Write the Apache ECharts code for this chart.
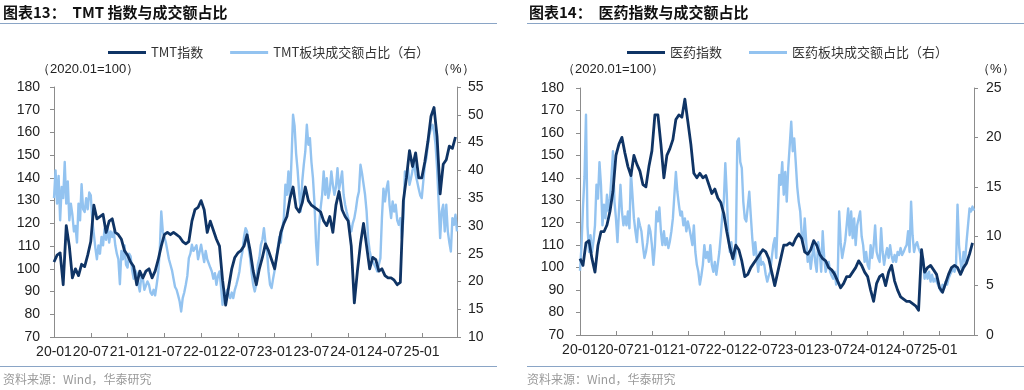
<!DOCTYPE html>
<html>
<head>
<meta charset="utf-8">
<script src="https://cdn.jsdelivr.net/npm/echarts@6/dist/echarts.min.js"></script>
<style>
html,body{margin:0;padding:0;background:#fff;}
#c{width:1024px;height:390px;}
</style>
</head>
<body>
<div id="c"></div>
<script>
// ---- categories: weekly-ish steps (4 per month) from 2020-01 to 2025-06 ----
const years = [2020, 2021, 2022, 2023, 2024, 2025];
const days = ['01', '08', '16', '23'];
const categories = [];
years.forEach(function (y) {
  for (let m = 1; m <= 12; m++) {
    if (y === 2025 && m > 6) break;
    const mm = (m < 10 ? '0' : '') + m;
    days.forEach(function (d) { categories.push(y + '-' + mm + '-' + d); });
  }
});
const tickLabels = ['20-01','20-07','21-01','21-07','22-01','22-07','23-01','23-07','24-01','24-07','25-01'];

// ---- TMT chart (index: half-monthly readings; share: weekly readings) ----
const tmtIndex = [
  103,106,107,93,119,110,96,100,97,102,101,106,
  112,128,122,123,124,116,121,122,116,115,113,108,
  106,103,101,93,99,96,99,100,96,99,104,110,
  115,116,115,116,115,114,112,111,112,121,126,127,
  130,126,116,121,117,113,110,95,84,92,100,105,
  107,108,110,115,108,99,93,100,105,111,108,104,
  100,108,116,120,123,131,136,127,125,129,136,130,
  128,127,126,125,121,119,123,116,128,134,126,123,
  121,110,85,99,111,120,110,100,105,104,99,100,
  97,96,96,95,93,94,130,140,152,145,151,140,
  140,147,156,167,171,158,133,146,148,154,153,158
];
const tmtShare = [
  35,40,34,39,31,37,35,41.5,34,38,31,34,32,29,30,27,34,31,37.5,33,32.5,35,33,36,
  35.5,31,28.5,26,24,26.5,25,28,26.5,29.5,27.5,30,27,29,28,29,26.5,25,24,19.5,25.5,24,26.5,23,
  22.5,25,24.5,22,20.5,22,21.5,19.5,18.2,21,20.5,18.5,18.2,20,19.4,18,17.6,18.5,17.5,19.4,21.5,25.4,32.6,29,
  28,27,25.5,24,23,22,20.5,19,18.5,17.5,16.4,14.6,17,18,19.4,21,24.2,25,26.6,25.5,25.4,26.5,24,24.2,
  26.6,25,23.5,25.5,24,24.2,22.5,21.8,20.5,21.5,19.4,21,21.8,19,15.8,18,17,18.5,18.2,17,18,17,18.5,19.4,
  20.5,21.8,24,25.4,28,29.6,29,26,24.2,21.5,19.4,18.2,19.5,23,24.2,26.6,27.5,29.6,27,25.4,21.8,19.4,18.8,20.5,
  22,24,26,28,27,29.6,31.4,37.4,35.6,39.8,35,42,50,48,43,40,36,32.6,38,41,43.4,48.2,44.6,45.8,
  41.5,38.6,34,27,23,30.2,33.2,35.6,39.8,35.6,38.6,35,36.5,39.8,37.4,35.6,37,40.4,36.5,38,39.8,35.6,33.8,32.5,
  31.4,30,29,30.5,31.4,33,35,36.2,41,39.5,39.2,35.6,32.6,27.8,25.5,24.2,24.5,23,22.5,21.8,23,24.2,31.4,36.7,
  34.4,36.7,38,33.8,31.4,34.4,32.6,33.8,31,30.2,31.4,27.8,31.4,39.8,38.6,40.4,37.4,38.6,40,41.6,39.2,38,36.7,35.5,
  35,38,41,42.2,44.6,46.4,47.6,48.2,47,44.6,40.4,34.4,27.8,32.6,33.8,29,33.8,29,27,25.4,31.4,30.2,32,29
];

// ---- Pharma chart ----
const medIndex = [
  104,101,111,112,104,98,110,116,116,119,125,134,
  150,155,158,151,145,141,150,146,143,137,136,145,
  152,168,168,155,140,150,153,157,166,168,167,175,
  165,155,142,140,142,140,141,137,133,135,131,129,
  124,116,109,104,110,108,103,96,97,100,102,104,
  106,108,107,104,98,92,98,104,110,110,111,110,
  113,115,113,107,106,108,112,110,106,104,103,100,
  99,97,94,91,93,96,96,98,100,103,101,98,
  96,90,85,93,96,97,92,98,101,94,90,87,
  86,85,85,84,83,81,108,98,100,101,99,97,
  91,89,93,97,100,101,100,97,100,102,106,111
];
const medShare = [
  6.5,9,13,16,22.3,11,8.4,10.1,8.4,9.5,11.1,15.2,13.8,17.5,15.2,11.1,13.2,11.8,14.2,12.5,13.8,16,18.6,13.5,
  11.8,9.4,12.5,15.2,12.5,11.1,12,11.1,12.5,10.8,16.5,14.2,11.8,10.5,9.4,11.8,11.1,10.5,9,7.8,8.4,9.4,11.1,10.5,
  9.1,7.1,9,12.5,11.5,12.9,10.5,9.1,10.5,9.1,9.8,8.8,9.5,10.5,11.8,14.2,16.5,14.5,13.2,12.1,12.5,11.1,11.8,10.5,
  11.5,10.8,10,9.1,11.1,8.4,7.1,6.4,5.1,6,7.1,9.1,7.8,8.4,7.4,9.1,7.1,6.4,7.4,6.1,7.2,8.4,10.1,12.1,
  13.5,17.4,14.2,10.1,8.4,9.4,8,7.1,8.4,19.6,19.9,17.5,16.9,13.5,11.8,11.5,13,14.5,12.1,9.8,8.1,9.4,7.8,6.4,
  8.4,7.1,7.4,7.1,6.1,5.4,6,6.4,7.8,9.1,9.8,7.8,11.8,16.2,15.2,17.5,14.2,16.5,13.5,16.9,19.2,21.6,18.6,19.9,
  17.5,15,13.5,12.5,10.1,9.1,11.8,9.4,7.4,8.4,6.7,8,9.1,7.4,6.4,9.4,8.4,6.4,10.5,7.8,6.4,7.1,7.4,6.4,
  6,5.7,6.4,5.1,5.7,12.5,9.4,7.8,7.8,9.5,11.1,12.8,10.1,12.5,9.8,11.8,9.1,11.1,11.8,12.5,10,9.1,7.4,8.4,
  7.1,6.7,9.1,7.8,9,11.1,8.4,7.8,7.4,10.8,8.4,7.1,8.1,8.8,7.8,9.1,8,7.4,8.1,7.4,8.4,8.1,8.8,8.1,
  8.4,8.8,9.1,10.5,8.4,13.5,10.1,8.4,9.1,9.4,8.8,8.4,8.6,7.8,5.7,6.4,5.7,6.4,5.4,6.1,5.4,5.7,5.4,5.1,
  4.7,4.4,5.1,4.7,5.4,5.1,5.7,6.1,6.4,6.7,6.4,7.1,13.2,9.1,7.4,6.4,8.4,7.4,9.4,11.1,12.8,12.5,13,12.6
];

const names = {
  tmtIdx: 'TMT指数', tmtSh: 'TMT板块成交额占比（右）',
  medIdx: '医药指数', medSh: '医药板块成交额占比（右）'
};

const DARK = '#0f3465';
const LIGHT = '#93c3f0';
const AXIS = '#8c8c8c';
const LABEL_FONT = '"Liberation Sans", Arial, sans-serif';
const CJK = '"Noto Sans CJK SC", "Liberation Sans", sans-serif';

// half-monthly index readings sit on every second weekly category
function halfMonthly(arr) { return arr.map(function (v, i) { return [2 * i, v]; }); }

function xAxisFor(gi) {
  return {
    type: 'category', gridIndex: gi, data: categories, boundaryGap: false,
    axisLine: { lineStyle: { color: AXIS, width: 1 } },
    axisTick: { inside: true, length: 4, lineStyle: { color: AXIS },
      interval: function (i) { return i % 24 === 0; } },
    axisLabel: { interval: function (i) { return i % 24 === 0; },
      formatter: function (v, i) { return tickLabels[Math.round(i / 24)] || ''; },
      color: '#222', fontSize: 14, fontFamily: LABEL_FONT, margin: 8 },
    splitLine: { show: false }
  };
}
function yAxisFor(gi, min, max, interval, pos, margin) {
  return {
    type: 'value', gridIndex: gi, position: pos, min: min, max: max, interval: interval,
    axisLine: { show: true, lineStyle: { color: AXIS, width: 1 } },
    axisTick: { show: true, length: 4, lineStyle: { color: AXIS } },
    axisLabel: { color: '#222', fontSize: 14, fontFamily: LABEL_FONT, margin: margin },
    splitLine: { show: false }
  };
}
function lineSeries(name, data, xi, yi, color, width, z) {
  return { name: name, type: 'line', xAxisIndex: xi, yAxisIndex: yi, data: data,
    showSymbol: false, symbol: 'none', z: z,
    lineStyle: { color: color, width: width, join: 'round' }, itemStyle: { color: color } };
}

const chart = echarts.init(document.getElementById('c'), null, { renderer: 'canvas' });

const legendBase = {
  icon: 'rect', itemWidth: 38, itemHeight: 3, itemGap: 27, top: 41,
  textStyle: { fontSize: 13, color: '#333', fontFamily: CJK }
};

function txt(x, y, text, font, fill, align) {
  return { type: 'text', x: x, y: y, silent: true,
    style: { text: text, font: font, fill: fill, align: align || 'left', verticalAlign: 'middle' } };
}
function hline(x1, x2, y, color) {
  return { type: 'line', silent: true, shape: { x1: x1, y1: y, x2: x2, y2: y },
    style: { stroke: color, lineWidth: 1 } };
}

chart.setOption({
  animation: false,
  backgroundColor: '#fff',
  grid: [
    { left: 54, right: 567, top: 87, bottom: 53 },
    { left: 580, right: 50, top: 88, bottom: 55 }
  ],
  legend: [
    Object.assign({ left: 103, data: [names.tmtIdx, names.tmtSh] }, legendBase),
    Object.assign({ left: 622, data: [names.medIdx, names.medSh] }, legendBase)
  ],
  xAxis: [xAxisFor(0), xAxisFor(1)],
  yAxis: [
    yAxisFor(0, 70, 180, 10, 'left', 14),
    yAxisFor(0, 10, 55, 5, 'right', 11),
    yAxisFor(1, 70, 180, 10, 'left', 16),
    yAxisFor(1, 0, 25, 5, 'right', 12)
  ],
  series: [
    lineSeries(names.tmtSh, tmtShare, 0, 1, LIGHT, 2.4, 2),
    lineSeries(names.tmtIdx, halfMonthly(tmtIndex), 0, 0, DARK, 2.8, 3),
    lineSeries(names.medSh, medShare, 1, 3, LIGHT, 2.4, 2),
    lineSeries(names.medIdx, halfMonthly(medIndex), 1, 2, DARK, 2.8, 3)
  ],
  graphic: [
    txt(3, 12, '图表13：  TMT 指数与成交额占比', 'bold 15px ' + CJK, '#111'),
    txt(529, 12, '图表14：  医药指数与成交额占比', 'bold 15px ' + CJK, '#111'),
    hline(0, 497, 23.5, '#8aa5c6'),
    hline(527, 1024, 23.5, '#8aa5c6'),
    txt(37, 69, '（2020.01=100）', '13px ' + LABEL_FONT, '#222'),
    txt(437, 69, '（%）', '13px ' + LABEL_FONT, '#222'),
    txt(562, 69, '（2020.01=100）', '13px ' + LABEL_FONT, '#222'),
    txt(977, 69, '（%）', '13px ' + LABEL_FONT, '#222'),
    hline(0, 497, 366.5, '#8aa5c6'),
    hline(527, 1024, 366.5, '#8aa5c6'),
    txt(3, 379, '资料来源：Wind，华泰研究', '12px ' + CJK, '#9a9a9a'),
    txt(527, 379, '资料来源：Wind，华泰研究', '12px ' + CJK, '#9a9a9a')
  ]
});
</script>
</body>
</html>
